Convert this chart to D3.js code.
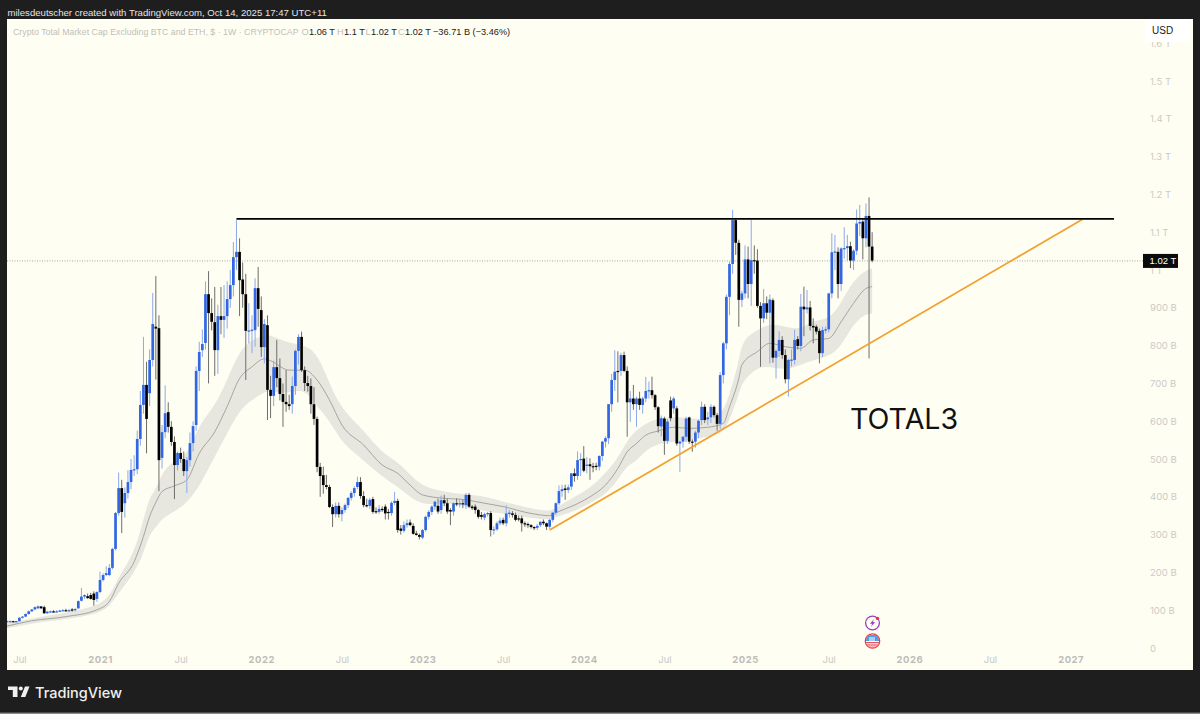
<!DOCTYPE html>
<html>
<head>
<meta charset="utf-8">
<title>TOTAL3</title>
<script src="https://d3js.org/d3.v7.min.js"></script>
<style>
  html, body { margin: 0; padding: 0; background: #1e1e1e; }
  svg { display: block; }
  text { font-family: "Liberation Sans", Inter, sans-serif; }
</style>
</head>
<body>
<svg id="chart" width="1200" height="714"></svg>
<script>
// weekly candles, values in billions of USD
var firstWeek = "2020-06-08";
var opens = [
70,71,71,70,71,80,83,90,97,102,
105,110,108,92,96,97,96,97,99,100,
99,102,100,105,125,136,137,140,144,130,
148,180,193,193,212,262,357,423,383,410,
439,471,473,553,643,696,674,762,850,846,
503,571,624,585,545,484,516,500,468,497,
542,590,733,788,807,936,886,862,788,878,
868,878,923,960,1034,1048,975,936,839,840,
841,952,894,796,854,683,667,743,714,672,
651,645,645,693,786,823,735,701,693,645,
606,479,457,431,426,373,354,376,354,365,
378,397,410,426,439,402,378,376,394,362,
360,368,374,360,357,384,389,316,310,325,
332,323,303,299,292,312,347,360,374,376,
365,391,383,365,361,383,381,383,378,405,
374,374,365,352,345,354,357,312,314,330,
339,330,357,356,352,343,343,330,328,325,
320,318,325,334,330,321,339,358,383,415,
422,418,427,462,455,497,501,483,486,481,
482,480,508,546,555,645,709,733,733,775,
733,650,660,645,660,643,660,680,682,669,
637,586,607,548,655,634,634,541,546,559,
610,546,546,570,603,638,605,610,638,616,
593,722,806,929,1016,1132,1072,921,938,1028,
963,1026,1025,905,872,912,887,920,768,786,
815,775,711,762,762,817,799,903,896,901,
852,850,839,780,841,843,938,1047,1048,963,
1057,1058,1063,1025,1051,1123,1128,1084,1143,1062];
var highs = [
72,73,72,72,82,85,91,99,103,110,
113,111,112,98,99,100,100,101,103,104,
103,106,106,126,159,142,144,146,150,150,
202,198,216,222,265,360,464,445,425,470,
500,510,575,680,823,757,790,939,984,880,
590,695,650,600,560,520,530,520,505,570,
600,745,810,843,970,997,925,955,908,955,
960,970,1000,1074,1132,1084,1020,990,912,880,
978,1008,930,870,880,720,760,815,766,700,
735,670,718,790,830,837,745,720,713,690,
612,490,480,458,432,380,385,385,372,382,
400,415,428,453,452,415,395,397,400,372,
378,375,380,368,388,413,395,325,335,340,
340,330,310,303,315,350,365,378,390,395,
403,405,395,370,385,396,395,392,410,410,
378,380,368,360,358,360,362,322,335,345,
345,378,365,362,358,350,350,335,332,328,
322,328,335,340,332,342,360,385,430,432,
432,432,462,475,520,515,534,505,502,490,
490,510,548,560,645,725,788,785,781,784,
745,680,696,665,678,665,717,705,718,672,
640,615,612,605,665,665,640,548,560,612,
612,552,575,604,652,645,625,645,642,622,
730,810,935,1022,1159,1135,1080,945,1065,1062,
1132,1065,1055,915,950,930,935,925,790,838,
825,790,765,790,842,825,937,956,947,918,
872,855,845,850,850,940,1097,1093,1060,1060,
1113,1093,1075,1055,1160,1172,1135,1176,1192,1100];
var lows = [
68,69,69,69,70,78,82,88,95,100,
103,103,90,90,93,94,94,95,97,97,
96,96,97,103,123,130,130,128,112,122,
145,176,190,190,208,258,350,304,345,395,
420,455,460,535,620,515,640,745,710,415,
475,555,570,535,394,470,490,455,410,480,
520,575,680,770,790,700,840,720,725,830,
820,845,900,930,1000,878,900,709,806,780,
797,850,770,753,603,608,640,690,655,585,
625,630,620,670,750,730,680,678,620,590,
465,400,408,420,370,320,345,345,335,358,
370,390,400,420,395,372,372,368,355,355,
355,360,340,340,350,378,305,300,305,318,
322,300,297,287,288,308,340,352,365,355,
355,375,355,325,350,375,372,370,368,370,
365,355,342,340,338,348,295,300,310,325,
325,322,345,345,335,335,308,320,318,316,
312,312,320,325,312,315,333,352,378,400,
392,410,418,440,445,455,465,462,445,465,
470,470,495,530,540,625,680,650,720,730,
559,598,630,585,630,620,650,660,660,630,
570,560,511,540,600,620,535,466,530,545,
540,519,530,555,590,595,590,595,610,575,
580,700,790,880,990,1040,850,902,925,925,
905,990,900,744,860,870,753,755,713,770,
765,700,665,745,750,790,785,825,885,840,
806,830,753,770,832,835,925,1000,925,945,
1030,1025,1005,1000,1040,1090,1028,1060,766,1020];
var closes = [
71,71,70,71,80,83,90,97,102,108,
110,105,92,96,97,96,97,99,100,99,
100,100,103,124,136,140,132,130,127,148,
180,193,198,212,262,357,423,360,410,439,
471,473,553,643,696,606,762,857,845,497,
571,621,585,545,484,516,500,468,497,542,
587,733,783,804,936,886,863,788,878,868,
878,923,960,1034,1048,973,936,839,840,842,
952,897,796,857,683,667,743,714,672,651,
645,640,693,786,823,735,701,693,645,606,
479,455,431,426,373,354,376,354,365,378,
397,410,423,439,402,378,376,392,360,360,
368,365,356,358,384,389,312,310,325,330,
325,302,299,294,312,347,360,374,387,361,
391,383,361,361,383,381,383,382,405,374,
370,365,347,347,354,357,312,314,330,337,
330,356,358,352,339,341,330,328,325,320,
317,323,334,330,321,339,358,383,415,420,
418,425,462,455,497,500,469,485,481,479,
480,508,546,555,645,709,731,731,775,733,
650,660,645,660,643,660,680,682,669,637,
587,608,548,599,608,660,541,546,559,607,
546,544,570,601,638,603,610,638,616,593,
722,806,929,1016,1132,1072,921,938,1028,963,
1026,1025,905,872,912,887,922,768,786,815,
775,711,762,763,815,799,903,896,901,852,
848,837,780,841,843,938,1047,1049,963,1057,
1058,1063,1025,1051,1123,1127,1084,1143,1062,1025];

// moving average and its band: samples at week numbers counted from firstWeek
var maWeeks = [0,8,19,29,33,36,41,44,46,48,50,54,58,62,67,71,75,79,83,85,91,96,100,104,108,115,121,126,130,134,141,147,154,160,169,175,177,183,188,193,197,200,203,206,210,215,220,226,231,233,236,237,242,246,251,256,260,265,269,273,277,279];
var maMid = [58,72,83,101,123,171,228,295,348,385,414,429,445,515,572,639,713,744,765,760,735,735,709,656,590,537,484,462,431,405,396,393,383,374,356,350,358,378,400,431,475,519,541,563,574,584,581,584,594,638,713,749,784,806,797,793,815,819,863,912,951,956];
var maUpper = [65,79,92,111,134,189,250,339,400,418,466,497,506,594,639,709,788,815,828,828,806,802,780,700,630,577,515,493,458,427,414,407,402,387,369,361,371,400,422,462,502,550,577,594,608,612,608,603,621,674,753,815,841,859,850,841,868,868,912,974,1000,1004];
var maLower = [52,65,76,90,109,145,198,250,303,318,343,361,383,427,506,568,630,656,678,678,674,687,638,603,541,497,453,427,400,378,383,378,361,356,343,339,347,361,383,405,444,484,493,524,541,546,550,559,568,603,669,704,744,744,735,749,762,771,797,859,885,884];

// tick labels
var priceTicks = [0,100,200,300,400,500,600,700,800,900,1000,1100,1200,1300,1400,1500,1600];
var timeTickDates = ["2020-07-06","2021-01-04","2021-07-05","2022-01-03","2022-07-04","2023-01-02","2023-07-03","2024-01-01","2024-07-01","2024-12-30","2025-07-07","2026-01-05","2026-07-06","2027-01-04"];
var timeTickLabels = ["Jul","2021","Jul","2022","Jul","2023","Jul","2024","Jul","2025","Jul","2026","Jul","2027"];

// drawn lines: [date, value in billions]
var resistance = [["2021-11-08",1135],["2027-04-12",1135]];
var trendLine = [["2023-10-16",312],["2027-02-01",1135]];
var lastClose = 1024;

var parseDay = d3.utcParse("%Y-%m-%d");
var start = parseDay(firstWeek);
var weekDate = function(n){ return d3.utcDay.offset(start, n*7); };

var x = d3.scaleUtc().domain([start, parseDay("2027-01-04")]).range([7, 1070.6]);
var y = d3.scaleLinear().domain([0,1600]).range([648,43.2]);

var candles = closes.map(function(c,i){
    return {date: weekDate(i), o: opens[i], h: highs[i], l: lows[i], c: c};
});
var BLUE = "#3066e2", BLUEWICK = "#8ba8ec", INK = "#060606", INKWICK = "#6e6e6a";

var svg = d3.select("#chart");

// the reference is a slightly soft screenshot
svg.append("defs").append("filter").attr("id","soft")
    .attr("x",0).attr("y",0).attr("width",1).attr("height",1)
    .append("feGaussianBlur").attr("stdDeviation",0.3);

// frame and plot background
svg.append("rect").attr("width",1200).attr("height",714).attr("fill","#1e1e1e");
svg.append("rect").attr("y",712.6).attr("width",1200).attr("height",1.4).attr("fill","#8c8c8c");
svg.append("rect").attr("x",7).attr("y",19).attr("width",1186).attr("height",651).attr("fill","#fffef3");
svg.select("defs").append("clipPath").attr("id","plot").append("rect")
    .attr("x",7).attr("y",19).attr("width",1186).attr("height",651);

var plot = svg.append("g").attr("clip-path","url(#plot)").append("g").attr("filter","url(#soft)");

// band
var maRows = maWeeks.map(function(w,i){
    return {date: weekDate(w), mid: maMid[i], up: maUpper[i], lo: maLower[i]};
});
plot.append("path").datum(maRows)
    .attr("fill","#e7e7e0")
    .attr("d", d3.area().curve(d3.curveBasis)
        .x(function(d){return x(d.date);})
        .y0(function(d){return y(d.lo);})
        .y1(function(d){return y(d.up);}));
plot.append("path").datum(maRows)
    .attr("fill","none").attr("stroke","#94948e").attr("stroke-width",0.8)
    .attr("d", d3.line().curve(d3.curveMonotoneX)
        .x(function(d){return x(d.date);})
        .y(function(d){return y(d.mid);}));

// last price line
plot.append("line")
    .attr("x1",7).attr("x2",1143)
    .attr("y1",y(lastClose)).attr("y2",y(lastClose))
    .attr("stroke","#a9a99f").attr("stroke-width",1).attr("stroke-dasharray","1 1.5");

// candles
plot.selectAll("line.wick").data(candles).join("line")
    .attr("class","wick")
    .attr("x1",function(d){return x(d.date);})
    .attr("x2",function(d){return x(d.date);})
    .attr("y1",function(d){return y(d.h);})
    .attr("y2",function(d){return y(d.l);})
    .attr("stroke",function(d){return d.c>=d.o ? BLUEWICK : INKWICK;})
    .attr("stroke-width",1);
plot.selectAll("rect.body").data(candles).join("rect")
    .attr("class","body")
    .attr("x",function(d){return x(d.date)-1.35;})
    .attr("width",2.7)
    .attr("y",function(d){return y(Math.max(d.o,d.c));})
    .attr("height",function(d){return Math.max(1.2,Math.abs(y(d.o)-y(d.c)));})
    .attr("fill",function(d){return d.c>=d.o ? BLUE : INK;});

// drawn lines
var drawn = d3.line()
    .x(function(d){return x(parseDay(d[0]));})
    .y(function(d){return y(d[1]);});
plot.append("path").attr("d",drawn(trendLine)).attr("fill","none").attr("stroke","#f2a232").attr("stroke-width",1.8);
plot.append("path").attr("d",drawn(resistance)).attr("fill","none").attr("stroke","#060606").attr("stroke-width",1.7);

// axes
var yAxis = d3.axisRight(y).tickValues(priceTicks).tickSize(0).tickPadding(0)
    .tickFormat(function(v){
        if (v===0) return "0";
        return v>=1000 ? (v/1000)+" T" : v+" B";
    });
var yg = svg.append("g").attr("transform","translate(1150,0)").call(yAxis);
yg.select(".domain").remove();
yg.selectAll("text").attr("fill","#cbcbc5").attr("font-size",9.5).attr("style","font-family:Inter");

var xAxis = d3.axisBottom(x).tickValues(timeTickDates.map(parseDay)).tickSize(0).tickPadding(0)
    .tickFormat(function(d,i){return timeTickLabels[i];});
var xg = svg.append("g").attr("transform","translate(0,656)").call(xAxis);
xg.select(".domain").remove();
xg.selectAll("text")
    .attr("fill",function(d,i){return timeTickLabels[i]==="Jul" ? "#c9c9c4" : "#bdbdb8";})
    .attr("font-size",9.5)
    .attr("font-weight",function(d,i){return timeTickLabels[i]==="Jul" ? 400 : 700;})
    .attr("letter-spacing",function(d,i){return timeTickLabels[i]==="Jul" ? 0 : 0.5;})
    .attr("style","font-family:Inter");

// USD button and price tag
svg.append("rect").attr("x",1145.5).attr("y",20).attr("width",44.5).attr("height",22).attr("fill","#ffffff");
svg.append("text").attr("x",1152).attr("y",34).attr("font-size",10).attr("fill","#222").text("USD");
svg.append("rect").attr("x",1143).attr("y",y(lastClose)-7).attr("width",35).attr("height",14).attr("fill","#0b0b0b");
svg.append("text").attr("x",1149.5).attr("y",y(lastClose)+3.5).attr("font-size",9.5).attr("fill","#ffffff").text("1.02 T");

// header
svg.append("text").attr("x",7.5).attr("y",16).attr("font-size",9.6).attr("fill","#e4e4e4")
    .text("milesdeutscher created with TradingView.com, Oct 14, 2025 17:47 UTC+11");

// legend line
var legendGrey = "#bfbfb8";
svg.append("text").attr("x",13).attr("y",34.5).attr("font-size",8.8).attr("fill",legendGrey)
    .text("Crypto Total Market Cap Excluding BTC and ETH, $ \u00b7 1W \u00b7 CRYPTOCAP");
var legendItems = [
    [301.5,"O",legendGrey],[309,"1.06 T","#222"],
    [337,"H",legendGrey],[344,"1.1 T","#222"],
    [365.5,"L",legendGrey],[371,"1.02 T","#222"],
    [398,"C",legendGrey],[405,"1.02 T","#222"],
    [433,"\u221236.71 B (\u22123.46%)","#222"]
];
svg.selectAll("text.leg").data(legendItems).join("text")
    .attr("class","leg")
    .attr("x",function(d){return d[0];}).attr("y",34.5)
    .attr("font-size",9.2).attr("fill",function(d){return d[2];})
    .text(function(d){return d[1];});

// TOTAL3 note
svg.append("text").attr("x",850).attr("y",429).attr("font-size",28.6).attr("fill","#111").attr("style","font-family:Inter").text("TOTAL3");

// event icons
var bolt = svg.append("g").attr("transform","translate(872.5,623)");
bolt.append("circle").attr("r",6.9).attr("fill","#fffef3").attr("stroke","#9a3fc0").attr("stroke-width",1.3);
bolt.append("path").attr("d","M1.6,-4 L-2.6,0.8 L-0.3,0.8 L-1.6,4 L2.6,-0.9 L0.3,-0.9 Z").attr("fill","#9a3fc0");
bolt.append("circle").attr("cx",5).attr("cy",-4.6).attr("r",1.7).attr("fill","#e8304a");
var flag = svg.append("g").attr("transform","translate(872.5,641)");
flag.append("clipPath").attr("id","flagclip").append("circle").attr("r",6.6);
var flagInner = flag.append("g").attr("clip-path","url(#flagclip)");
flagInner.append("rect").attr("x",-7).attr("y",-7).attr("width",14).attr("height",14).attr("fill","#fff");
flagInner.selectAll("rect.stripe").data([1,3.4,5.6]).join("rect").attr("class","stripe")
    .attr("x",-7).attr("y",function(d){return d;}).attr("width",14).attr("height",1.2).attr("fill","#e8505a");
flagInner.append("rect").attr("x",-7).attr("y",-6).attr("width",14).attr("height",6).attr("fill","#4a9fe8");
flagInner.selectAll("rect.tower").data([-3,-1,1]).join("rect").attr("class","tower")
    .attr("x",function(d){return d;}).attr("y",-4).attr("width",1).attr("height",4).attr("fill","#fff");
flag.append("circle").attr("r",7.2).attr("fill","none").attr("stroke","#e8404a").attr("stroke-width",1.3);

// TradingView logo
var logo = svg.append("g").attr("fill","#f0f0f0");
logo.append("path").attr("d","M8,686.5 H17.5 V697 H12.8 V690 H8 Z");
logo.append("circle").attr("cx",20.8).attr("cy",688.5).attr("r",2);
logo.append("path").attr("d","M25,686.5 H29.5 L25.3,697 H20.8 Z");
logo.append("text").attr("x",35).attr("y",697.5).attr("font-size",14.5).attr("font-weight",500)
    .attr("style","font-family:Inter").text("TradingView");
</script>
</body>
</html>
